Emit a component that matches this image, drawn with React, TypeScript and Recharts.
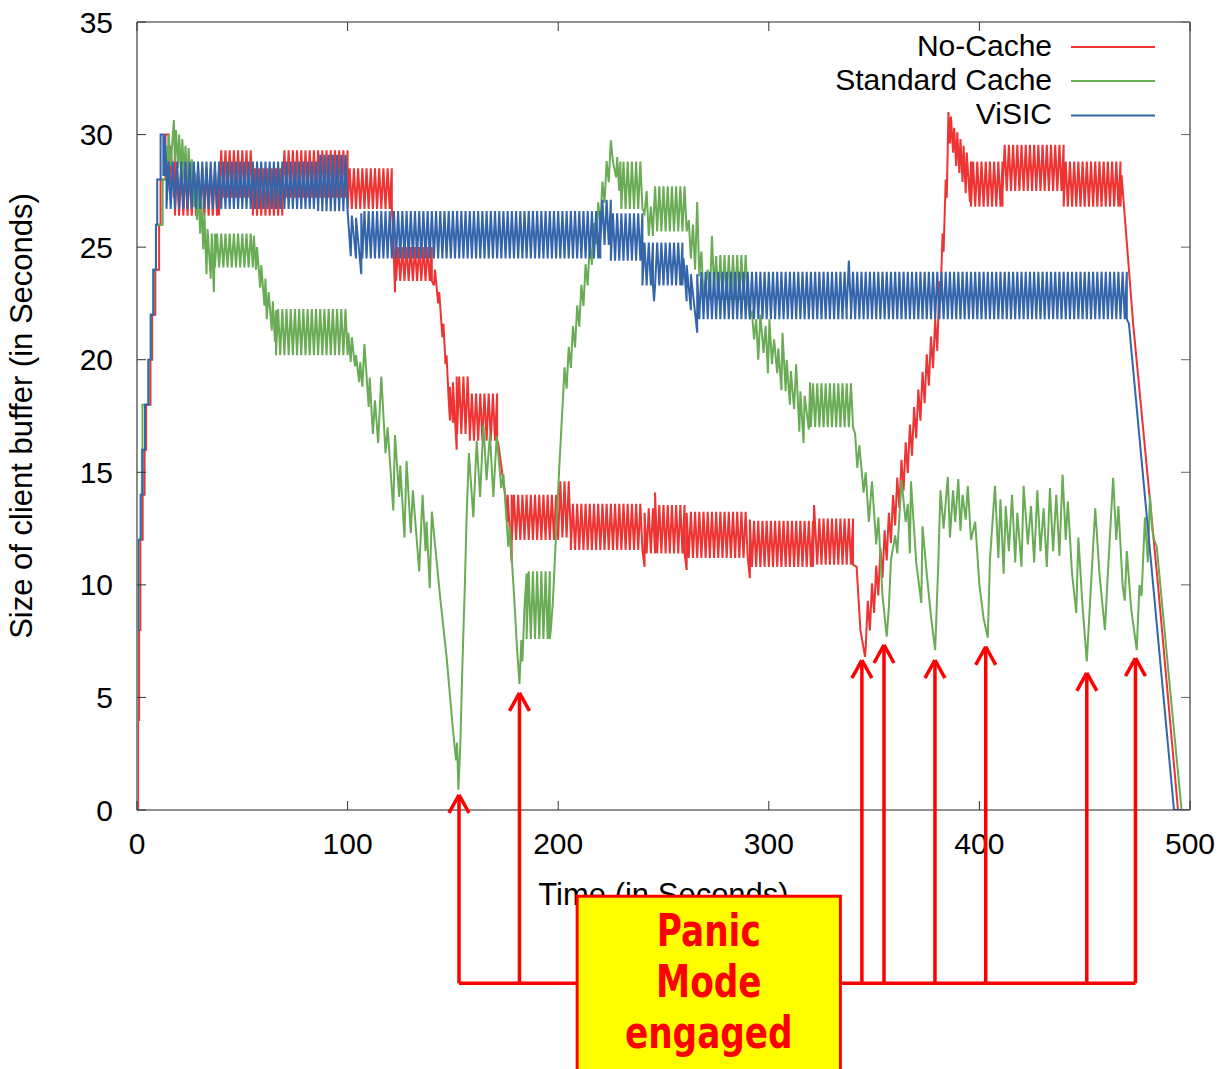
import React from 'react';
import { LineChart, Line, XAxis, YAxis, ReferenceLine, ReferenceArea, Legend } from 'recharts';

// ---------- axis ticks ----------
const X_TICKS = [0, 100, 200, 300, 400, 500];
const Y_TICKS = [0, 5, 10, 15, 20, 25, 30, 35];

// ---------- series legend ----------
const SERIES_NAMES = ['No-Cache', 'Standard Cache', 'ViSIC'];
const SERIES_COLORS = ['#ee3333', '#6aac56', '#3465ab'];

// Oscillation period of the download/playback cycle (seconds)
const PERIOD = 2;

// Each entry is either an explicit point [t, v]
// or an oscillation band [t0, t1, low, high] / [t0, t1, low0, high0, low1, high1]
const NO_CACHE_TRACE: number[][] = [
  [0, 0], [0.5, 0], [0.5, 4], [1, 4], [1, 8], [1.6, 8], [1.6, 12], [2.7, 12], [2.7, 14], [3.6, 14], [3.6, 16],
  [4.3, 16], [4.3, 18], [6.4, 18], [6.4, 20], [7.2, 20], [7.2, 22], [8.7, 22], [8.7, 24], [10.5, 24], [10.5, 26],
  [11.2, 26], [11.2, 28], [13.5, 28], [13.5, 30], [15, 30], [15.5, 27.5], [16, 29.5], [17.5, 27.2], [18, 29],
  [18, 39, 26.4, 28.5],
  [39, 55, 27.2, 29.3],
  [55, 69, 26.4, 28.5],
  [69, 100, 27.2, 29.3],
  [100, 121, 26.7, 28.5],
  [121.5, 26.0], [122, 24.5], [122.5, 23.0], [122.5, 24.9],
  [123, 140, 23.5, 25.0],
  [141, 23.3], [141.5, 24.0], [143, 22.5], [143.5, 23.0], [145, 21.0], [145.5, 21.6], [146.5, 19.8], [147, 20.2],
  [148, 18.2], [148.6, 17.3], [148.6, 18.8], [150, 17.2], [150, 19.0], [151.8, 16.0], [151.8, 19.25],
  [152, 158, 16.7, 19.25],
  [158, 171, 16.4, 18.5],
  [171.5, 16.3], [174.7, 14.1], [176, 12.8], [176, 14.0], [177.9, 11.0], [177.9, 14.0],
  [178, 200, 12.0, 14.0],
  [200, 206, 12.1, 14.6],
  [206, 240, 11.55, 13.6],
  [241, 10.8], [241, 13.2],
  [242, 246, 11.4, 13.4],
  [246, 14.1],
  [247, 260, 11.4, 13.55],
  [261, 10.66], [261, 13.2],
  [262, 290, 11.2, 13.25],
  [291, 10.3], [291, 12.9],
  [292, 321, 10.8, 12.85],
  [321.5, 13.55],
  [323, 340, 10.9, 12.95],
  [341.7, 10.8], [343.5, 8.0], [345.7, 6.8],
  [346, 380, 7.2, 8.9, 20.4, 22.2],
  [381, 23.5], [381.5, 22.6], [382.5, 25.6], [383, 24.8], [384, 28.0], [384.5, 27.2], [385.3, 31.0], [386, 29.6],
  [386.5, 30.8], [387.5, 29.2], [388, 30.3], [389, 28.6], [389.5, 30.1], [390.5, 28.3], [391, 29.8], [392, 27.9],
  [392.5, 29.5], [393.5, 27.4], [394, 29.2], [395.5, 27.0], [396, 28.8],
  [396, 411, 26.8, 28.8],
  [411, 440, 27.5, 29.55],
  [440, 467, 26.8, 28.8],
  [467.5, 28.2], [473, 21.6], [484.8, 10.0], [494.3, 0], [500, 0],
];

const STANDARD_CACHE_TRACE: number[][] = [
  [0, 0], [0, 4], [0.2, 4], [0.2, 8], [0.7, 8], [0.7, 12], [1.8, 12], [1.8, 14], [2.3, 14], [2.3, 16], [2.6, 16],
  [2.6, 18], [5.5, 18], [5.5, 20], [6.6, 20], [6.6, 22], [7.8, 22], [7.8, 24], [9.0, 24], [9.0, 26], [12.2, 26],
  [12.2, 28], [14, 28], [14, 29.5], [14.6, 28.2], [15, 30], [16, 28.6], [17.5, 30.65], [18, 28.8], [18.5, 30.2],
  [19.5, 28.5], [20, 30], [21, 28.2], [21.5, 29.8], [22.5, 28], [23, 29.5], [24, 27.7], [24.5, 29.4], [25.5, 27.4],
  [26, 28.9], [27, 26.8], [27.5, 28.3], [28.5, 26.2], [29, 27.8], [30, 25.6], [30.5, 27.2], [31.5, 24.9], [32, 26.5],
  [33, 23.8], [33.5, 25.8], [35, 23.6], [35.5, 25.6], [36.5, 23.0], [37, 25.6],
  [37, 55, 24.1, 25.6],
  [55.5, 25.5], [56.5, 24.0], [57, 25.0], [58.5, 23.2], [59, 24.2], [60.5, 22.4], [61, 23.6], [61.6, 21.8], [62.5, 23.0],
  [64, 21.3], [64.5, 22.6], [65.5, 20.8], [66, 22.2],
  [66, 100, 20.2, 22.25],
  [100.3, 21.2], [101.5, 19.9], [102, 21.0], [103.5, 19.7], [104, 20.2], [105.5, 19.0], [106, 19.9], [107, 18.8],
  [108, 20.7], [110, 17.9], [110.5, 19.2], [112, 16.7], [113, 18.2], [114.5, 16.3], [116, 19.25], [118, 15.85],
  [119, 17.0], [121.7, 13.3], [122.5, 16.65], [124.5, 13.9], [125, 15.3], [127, 12.1], [128, 15.5], [130, 12.3],
  [131, 14.2], [134, 10.6], [135.6, 14.0], [137, 11.5], [137.5, 12.8], [139, 9.85], [140, 13.25], [144, 9.4],
  [147, 6.8], [150, 3.6], [151.5, 2.2], [152, 3.0], [152.6, 0.9], [153.5, 2.8], [154.5, 6.4], [155.7, 10.1],
  [156.5, 13.0], [157.6, 15.85], [159.7, 13.0], [161.3, 16.4], [162.9, 13.9], [164.5, 17.1], [166, 14.65],
  [167.6, 16.7], [169.2, 13.9], [170.8, 16.6], [173, 14.3], [174, 14.9], [176.3, 11.7], [177, 12.6], [179, 9.6],
  [180.5, 7.1], [181.6, 5.6], [182.5, 7.55], [183, 6.6], [184, 9.0], [185, 10.5],
  [185, 196, 7.6, 10.6],
  [196.5, 8.0], [197.5, 9.3], [199, 12.3], [200.5, 15.2], [201.8, 17.5],
  [202, 226, 17.8, 19.2, 28.8, 30.2],
  [227.5, 28.1], [228, 29.0], [229, 27.5], [229.5, 28.8],
  [230, 240, 26.7, 28.8],
  [241, 26.5], [242, 27.5], [243, 25.5], [244, 26.8], [245, 25.5],
  [245, 261, 25.7, 27.7],
  [262, 26.2], [263, 24.5], [264, 26.0], [265, 24.0], [266, 27.0], [267, 23.7], [268, 24.8], [269, 22.8], [271, 24.0],
  [272, 22.65], [273, 25.5], [274, 23.2], [275, 24.6],
  [276, 290, 22.65, 24.65],
  [291, 21.9], [292, 22.1], [293, 20.9], [294, 21.8], [295, 20.0], [296, 22.0], [297.5, 20.3], [298.5, 21.5],
  [299.6, 19.4], [300.3, 21.8], [301.5, 19.8], [302.5, 20.9], [304, 19.4], [304.5, 20.5], [306, 18.65], [306.5, 21.2],
  [308, 18.6], [308.5, 20.0], [310, 18.0], [310.5, 19.5], [312, 17.8], [313, 19.8], [314.5, 16.8], [315, 18.6],
  [316.5, 16.3], [317, 18.4], [319, 16.9], [319.6, 19.0],
  [320, 340, 17.0, 18.95],
  [341, 16.7], [342, 15.2], [343, 16.2], [345, 14.1], [346, 15.0], [347.5, 12.8], [349, 14.6], [351, 11.8], [352, 13.0],
  [354, 9.5], [356, 7.7], [357, 9.0], [358, 11.1], [360, 12.2], [361, 11.4], [363, 14.65], [365, 12.8], [366, 13.6],
  [367, 11.4], [367.5, 14.6], [370, 11.0], [372.4, 9.2], [373, 12.6], [375, 10.5], [377, 8.6], [379, 7.1],
  [380.5, 11.0], [381.5, 14.2], [383, 12.5], [385, 14.8], [386, 12.1], [387.5, 14.2], [388.5, 12.8], [390, 14.7],
  [391, 12.4], [392, 14.0], [393.5, 12.9], [394.5, 14.4], [396, 12.0], [398, 12.8], [400, 10.0], [402, 8.5],
  [404, 7.65], [405, 11.1], [407.4, 14.4], [409, 11.2], [410, 13.8], [411.5, 10.5], [412.5, 13.5], [414, 11.5],
  [415.5, 14.0], [417, 11.0], [418, 13.2], [420, 10.8], [421, 14.4], [423, 11.8], [424.5, 13.5], [426, 11.0],
  [427.5, 14.2], [429, 11.5], [430.5, 13.4], [432, 10.8], [433.5, 14.3], [435, 11.5], [436.5, 14.0], [438, 11.3],
  [439.5, 14.9], [441, 12.0], [442, 13.7], [444, 10.5], [446, 8.75], [447, 12.1], [449, 9.0], [451, 6.6], [453, 10.0],
  [455, 13.4], [457, 10.5], [459.6, 8.0], [461, 10.5], [463.5, 14.75], [465, 12.0], [466, 13.5], [468, 10.0],
  [469, 9.3], [470, 11.5], [472, 9.0], [474.7, 7.1], [476, 10.0], [477, 9.5], [478.6, 13.0], [480, 11.0], [481, 14.0],
  [482, 12.5], [483, 12.0], [484.2, 11.7], [490, 5.9], [496, 0], [500, 0],
];

const VISIC_TRACE: number[][] = [
  [0, 0], [0, 4], [0.15, 4], [0.15, 8], [0.6, 8], [0.6, 12], [1.75, 12], [1.75, 14], [2.7, 14], [2.7, 16], [3.8, 16],
  [3.8, 18], [5.4, 18], [5.4, 20], [6.5, 20], [6.5, 22], [7.75, 22], [7.75, 24], [9.0, 24], [9.0, 26], [9.6, 26],
  [9.6, 28], [11.2, 28], [11.2, 30], [12.5, 30], [12.5, 28.2], [13, 28.2], [13, 30], [14, 28.5],
  [14, 86, 26.7, 28.8],
  [86, 100, 26.6, 29.1],
  [100, 26.6], [101.5, 24.6], [102, 26.4], [104, 24.5], [104, 26.3], [106.5, 23.8], [106.5, 26.5],
  [107, 220, 24.5, 26.6],
  [220, 225, 25.1, 27.1],
  [225, 240, 24.4, 26.5],
  [240, 245, 23.3, 25.2],
  [245.5, 22.6],
  [246, 259, 23.3, 25.2],
  [259.5, 24.5], [261, 22.6], [261, 24.2], [263, 22.2], [263, 23.8], [266, 21.2], [266, 23.8],
  [267, 337, 21.8, 23.9],
  [337, 339, 22.2, 24.4],
  [339, 470, 21.8, 23.9],
  [471, 21.6], [492.4, 0], [500, 0],
];

// ---------- "Panic Mode engaged" annotation (data coordinates) ----------
const PANIC_TIMES = [152.9, 181.6, 344.2, 354.7, 378.9, 403.0, 451.0, 474.1];
const PANIC_TIPS = [0.67, 5.2, 6.66, 7.33, 6.66, 7.25, 6.09, 6.75];
const PANIC_BAR_LEVEL = -7.7;
const PANIC_BOX = { t0: 209, t1: 334, top: -3.83, bottom: -11.7 };
const PANIC_TEXT = ['Panic', 'Mode', 'engaged'];

type Pt = { t: number; v: number };

function buildSeries(trace: number[][]): Pt[] {
  const out: Pt[] = [];
  for (const e of trace) {
    if (e.length === 2) {
      out.push({ t: e[0], v: e[1] });
    } else {
      const t0 = e[0], t1 = e[1];
      const lo0 = e[2], hi0 = e[3];
      const lo1 = e.length > 4 ? e[4] : lo0;
      const hi1 = e.length > 5 ? e[5] : hi0;
      const lerp = (a: number, b: number, t: number) => a + (b - a) * ((t - t0) / (t1 - t0));
      for (let t = t0; t < t1 - 0.01; t += PERIOD) {
        out.push({ t, v: lerp(lo0, lo1, t) });
        const tm = Math.min(t + PERIOD / 2, t1);
        out.push({ t: tm, v: lerp(hi0, hi1, tm) });
      }
      out.push({ t: t1, v: lo1 });
    }
  }
  return out;
}

const SERIES_DATA = [buildSeries(NO_CACHE_TRACE), buildSeries(STANDARD_CACHE_TRACE), buildSeries(VISIC_TRACE)];

const FONT = "'Liberation Sans', Arial, Helvetica, sans-serif";
const TICK_LEN = 9;

const BottomTick = (p: any) => (
  <g>
    <line x1={p.x} y1={p.y} x2={p.x} y2={p.y - TICK_LEN} stroke="#333" strokeWidth={1} />
    <text x={p.x} y={p.y + 43.5} textAnchor="middle" fontSize={30} fontFamily={FONT} fill="#000">
      {p.payload.value}
    </text>
  </g>
);
const TopTick = (p: any) => (
  <line x1={p.x} y1={p.y} x2={p.x} y2={p.y + TICK_LEN} stroke="#333" strokeWidth={1} />
);
const LeftTick = (p: any) => (
  <g>
    <line x1={p.x} y1={p.y} x2={p.x + TICK_LEN} y2={p.y} stroke="#333" strokeWidth={1} />
    <text x={p.x - 24} y={p.y + 10.5} textAnchor="end" fontSize={30} fontFamily={FONT} fill="#000">
      {p.payload.value}
    </text>
  </g>
);
const RightTick = (p: any) => (
  <line x1={p.x} y1={p.y} x2={p.x - TICK_LEN} y2={p.y} stroke="#666" strokeWidth={1} />
);

const XTitle = (props: any) => {
  const vb = props.viewBox || { x: 137, y: 810, width: 1053 };
  return (
    <text x={vb.x + vb.width / 2} y={vb.y + 95} textAnchor="middle" fontSize={31} fontFamily={FONT} fill="#000">
      Time (in Seconds)
    </text>
  );
};
const YTitle = (props: any) => {
  const vb = props.viewBox || { x: 0, y: 22, height: 788 };
  const cx = vb.x + 32;
  const cy = vb.y + vb.height / 2;
  return (
    <text x={cx} y={cy} transform={`rotate(-90 ${cx} ${cy})`} textAnchor="middle" fontSize={31} fontFamily={FONT} fill="#000">
      Size of client buffer (in Seconds)
    </text>
  );
};

const LegendBox = () => {
  const rows = [47, 81, 115.5];
  return (
    <svg width={1223} height={140} style={{ position: 'absolute', left: 0, top: 0, overflow: 'visible' }}>
      {SERIES_NAMES.map((name, i) => (
        <g key={name}>
          <text x={1052} y={rows[i] + 8.5} textAnchor="end" fontSize={30} fontFamily={FONT} fill="#000">
            {name}
          </text>
          <line x1={1071} y1={rows[i]} x2={1155} y2={rows[i]} stroke={SERIES_COLORS[i]} strokeWidth={2} />
        </g>
      ))}
    </svg>
  );
};

const PanicBoxShape = (p: any) => {
  const cx = p.x + p.width / 2;
  return (
    <g>
      <rect x={p.x} y={p.y} width={p.width} height={p.height} fill="#ffff00" stroke="#ff0000" strokeWidth={3} />
      {PANIC_TEXT.map((s, i) => (
        <text
          key={s}
          x={0}
          y={0}
          transform={`translate(${cx} ${p.y + 50 + i * 51}) scale(0.78 1)`}
          textAnchor="middle"
          fontSize={44}
          fontWeight="bold"
          fontFamily="'Comic Sans MS', 'DejaVu Sans', sans-serif"
          fill="#ff0000"
        >
          {s}
        </text>
      ))}
    </g>
  );
};

const ARROW_DX = 4.75; // half-width of arrow head, seconds
const ARROW_DY = 0.8; // arrow head length, buffer seconds

export default function App() {
  const arrowLines: any[] = [];
  PANIC_TIMES.forEach((t, i) => {
    const tip = PANIC_TIPS[i];
    arrowLines.push([{ x: t, y: PANIC_BAR_LEVEL }, { x: t, y: tip }]);
    arrowLines.push([{ x: t - ARROW_DX, y: tip - ARROW_DY }, { x: t, y: tip }]);
    arrowLines.push([{ x: t + ARROW_DX, y: tip - ARROW_DY }, { x: t, y: tip }]);
  });
  arrowLines.push([
    { x: PANIC_TIMES[0], y: PANIC_BAR_LEVEL },
    { x: PANIC_TIMES[PANIC_TIMES.length - 1], y: PANIC_BAR_LEVEL },
  ]);

  return (
    <div style={{ position: 'absolute', left: 0, top: 0, width: 1223, height: 1069, background: '#fff' }}>
      <LineChart width={1223} height={1069} margin={{ top: 20, right: 31, bottom: 0, left: 0 }}>
        <XAxis
          dataKey="t"
          type="number"
          domain={[0, 500]}
          ticks={X_TICKS}
          interval={0}
          height={259}
          tickSize={0}
          tickMargin={0}
          tickLine={false}
          axisLine={{ stroke: '#222', strokeWidth: 1 }}
          tick={BottomTick}
          label={XTitle}
          allowDataOverflow
        />
        <XAxis
          xAxisId="top"
          orientation="top"
          dataKey="t"
          type="number"
          domain={[0, 500]}
          ticks={X_TICKS}
          interval={0}
          height={2}
          tickSize={0}
          tickMargin={0}
          tickLine={false}
          axisLine={{ stroke: '#222', strokeWidth: 1 }}
          tick={TopTick}
          allowDataOverflow
        />
        <YAxis
          type="number"
          domain={[0, 35]}
          ticks={Y_TICKS}
          interval={0}
          width={137}
          tickSize={0}
          tickMargin={0}
          tickLine={false}
          axisLine={{ stroke: '#8a8a8a', strokeWidth: 2 }}
          tick={LeftTick}
          label={YTitle}
          allowDataOverflow
        />
        <YAxis
          yAxisId="right"
          orientation="right"
          type="number"
          domain={[0, 35]}
          ticks={Y_TICKS}
          interval={0}
          width={2}
          tickSize={0}
          tickMargin={0}
          tickLine={false}
          axisLine={{ stroke: '#8a8a8a', strokeWidth: 2 }}
          tick={RightTick}
          allowDataOverflow
        />
        <Legend
          layout="vertical"
          align="center"
          verticalAlign="middle"
          content={LegendBox}
          wrapperStyle={{ position: 'absolute', left: 0, top: 0, width: 1223, height: 0 }}
        />
        {SERIES_DATA.map((d, i) => (
          <Line
            key={SERIES_NAMES[i]}
            data={d}
            dataKey="v"
            name={SERIES_NAMES[i]}
            type="linear"
            stroke={SERIES_COLORS[i]}
            strokeWidth={2}
            dot={false}
            activeDot={false}
            isAnimationActive={false}
          />
        ))}
        {arrowLines.map((seg, i) => (
          <ReferenceLine
            key={`arrow-${i}`}
            segment={seg}
            stroke="#ff0000"
            strokeWidth={3.5}
            ifOverflow="visible"
            {...({ zIndex: 2400 } as any)}
          />
        ))}
        <ReferenceArea
          x1={PANIC_BOX.t0}
          x2={PANIC_BOX.t1}
          y1={PANIC_BOX.bottom}
          y2={PANIC_BOX.top}
          ifOverflow="visible"
          shape={PanicBoxShape}
          {...({ zIndex: 2600 } as any)}
        />
      </LineChart>
    </div>
  );
}
